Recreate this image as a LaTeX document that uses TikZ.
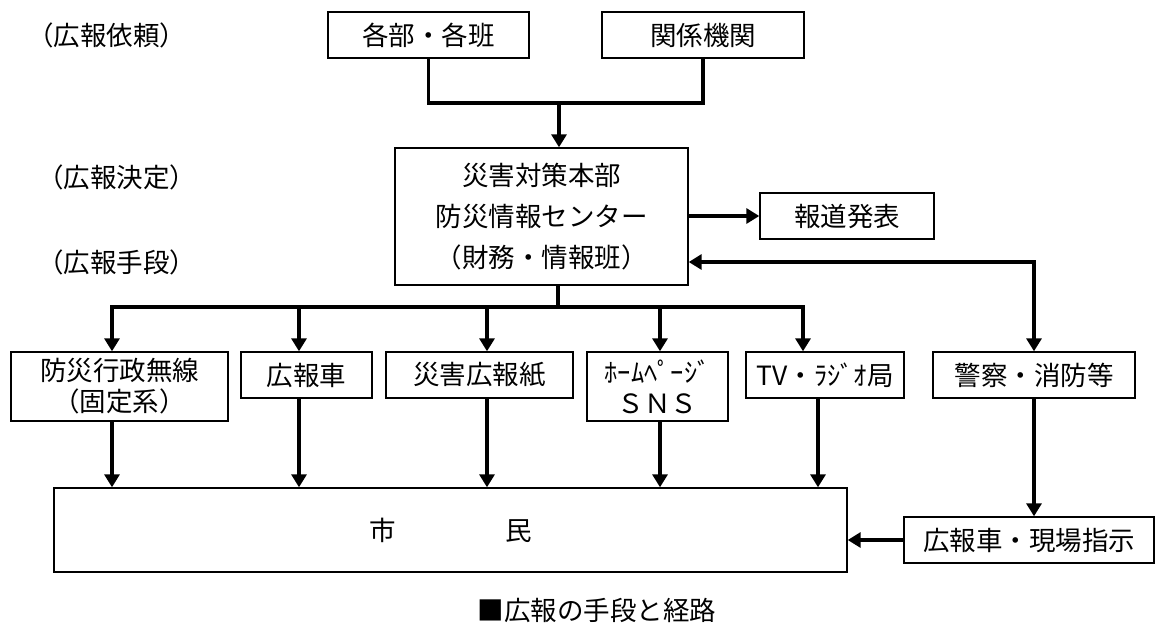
\documentclass[tikz,border=0pt]{standalone}
\usepackage{fontspec}
\newfontfamily\jp{Noto Sans CJK JP}
\usetikzlibrary{arrows.meta}
\tikzset{
  box/.style={draw, line width=1.4pt, inner sep=0pt, align=center,
    font=\jp\fontsize{26.5}{31}\selectfont},
  lbl/.style={inner sep=0pt, anchor=west, font=\jp\fontsize{26.5}{31}\selectfont},
  conn/.style={line width=3.2pt, line join=miter},
  arr/.style={conn, -{Triangle[length=13pt,width=15pt]}},
  arrboth/.style={conn, {Triangle[length=13pt,width=15pt]}-{Triangle[length=13pt,width=15pt]}}
}
\begin{document}
\begin{tikzpicture}[x=1pt,y=-1pt]
\useasboundingbox (0,0) rectangle (1156,625);
% level labels
\node[lbl] (l1) at (27,35) {（広報依頼）};
\node[lbl] (l2) at (37,177) {（広報決定）};
\node[lbl] (l3) at (37,262) {（広報手段）};
% boxes
\node[box, minimum width=201pt, minimum height=46pt] (kakubu) at (428.5,35) {各部・各班};
\node[box, minimum width=202pt, minimum height=46pt] (kankei) at (703,35) {関係機関};
\node[box, minimum width=293pt, minimum height=137pt, font=\jp\fontsize{26.5}{41}\selectfont] (honbu) at (541.5,216.5) {災害対策本部\\防災情報センター\\（財務・情報班）};
\node[box, minimum width=174pt, minimum height=46pt] (houdou) at (847,216) {報道発表};
\node[box, minimum width=217pt, minimum height=69pt] (bousai) at (119.5,386.5) {防災行政無線\\（固定系）};
\node[box, minimum width=131pt, minimum height=46pt] (kouhousha) at (306.5,375) {広報車};
\node[box, minimum width=187pt, minimum height=46pt] (kouhoushi) at (479.5,375) {災害広報紙};
\node[box, minimum width=141pt, minimum height=69pt] (hp) at (657.5,386.5) {ﾎｰﾑﾍﾟｰｼﾞ\\ＳＮＳ};
\node[box, minimum width=158pt, minimum height=46pt] (tv) at (825,375) {TV・ﾗｼﾞｵ局};
\node[box, minimum width=202pt, minimum height=46pt] (keisatsu) at (1034,375) {警察・消防等};
\node[box, minimum width=793pt, minimum height=84pt] (shimin) at (450.5,530) {市\hspace{110pt}民};
\node[box, minimum width=250pt, minimum height=46pt] (genba) at (1029,540) {広報車・現場指示};
\node[lbl, anchor=center] (cap) at (597,610) {■広報の手段と経路};
% request connectors
\coordinate (j1) at (559,103);
\draw[conn] (kakubu.south) |- (j1) -| (kankei.south);
\draw[arr] (j1) -- (j1 |- honbu.north);
% press
\draw[arr] (honbu.east |- houdou.west) -- (houdou.west);
% police / fire
\coordinate (j2) at (1034,262);
\draw[arrboth] (honbu.east |- j2) -- (j2) -- (keisatsu.north);
% distribution
\coordinate (j3) at (558,307);
\coordinate (b1) at (112,307);
\coordinate (b2) at (299,307);
\coordinate (b3) at (487,307);
\coordinate (b4) at (660,307);
\coordinate (b5) at (803,307);
\coordinate (c5) at (818,307);
\draw[conn] (honbu.south -| j3) -- (j3);
\draw[arr] (j3) -| (b1 |- bousai.north);
\draw[arr] (j3) -| (b5 |- tv.north);
\draw[arr] (b2) -- (b2 |- kouhousha.north);
\draw[arr] (b3) -- (b3 |- kouhoushi.north);
\draw[arr] (b4) -- (b4 |- hp.north);
% to citizens
\draw[arr] (b1 |- bousai.south) -- (b1 |- shimin.north);
\draw[arr] (b2 |- kouhousha.south) -- (b2 |- shimin.north);
\draw[arr] (b3 |- kouhoushi.south) -- (b3 |- shimin.north);
\draw[arr] (b4 |- hp.south) -- (b4 |- shimin.north);
\draw[arr] (c5 |- tv.south) -- (c5 |- shimin.north);
\draw[arr] (keisatsu.south) -- (keisatsu.south |- genba.north);
\draw[arr] (genba.west) -- (genba.west -| shimin.east);
\end{tikzpicture}
\end{document}
